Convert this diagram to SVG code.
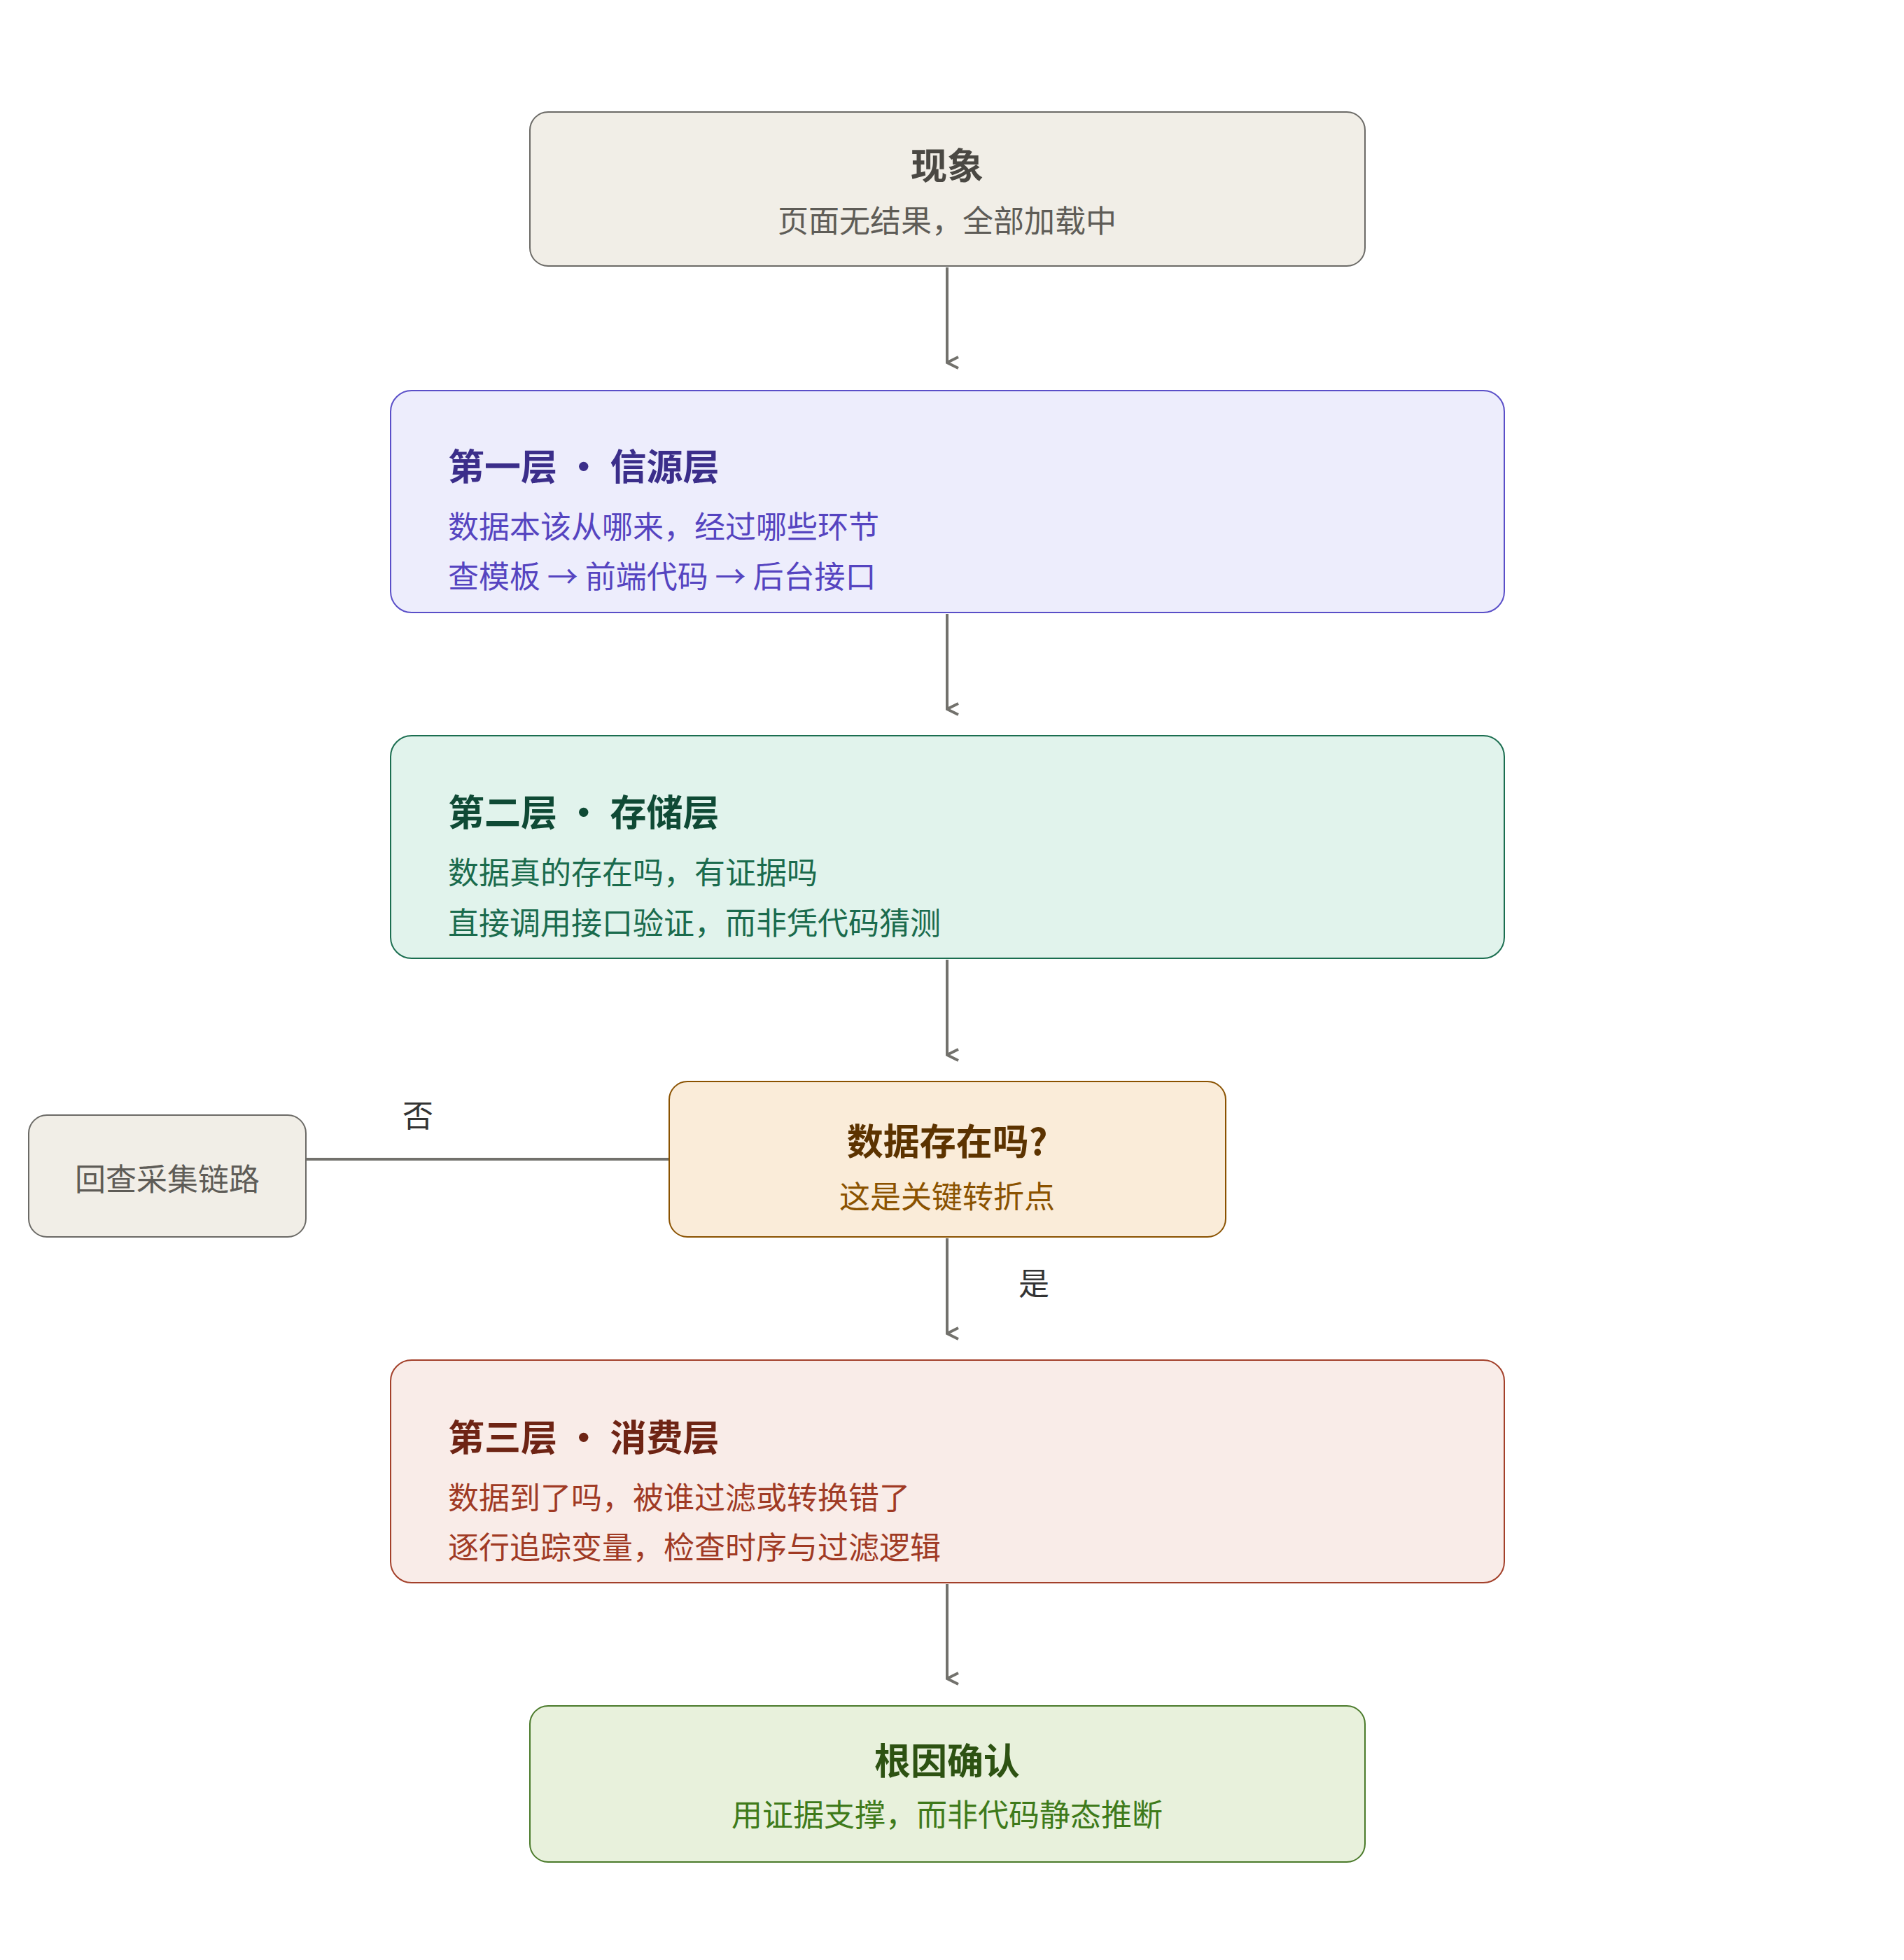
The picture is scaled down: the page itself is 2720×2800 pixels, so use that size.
<svg xmlns="http://www.w3.org/2000/svg" width="2720" height="2800" viewBox="0 0 2720 2800">
<style>
text{font-family:"Noto Sans CJK SC","Noto Sans",sans-serif;dominant-baseline:central}
.t{font-size:52px;font-weight:bold}
.b{font-size:44px}
.c{text-anchor:middle}
.e{stroke:#72716c;stroke-width:4;fill:none}
</style>
<defs><marker id="a" viewBox="0 0 20 20" refX="10" refY="18" markerWidth="20" markerHeight="20" markerUnits="userSpaceOnUse" orient="auto-start-reverse"><path d="M2 2 L10 18 L18 2" fill="none" stroke="#72716c" stroke-width="4"/></marker></defs>
<g id="connectors">
<path class="e" d="M1353 382V518" marker-end="url(#a)"/>
<path class="e" d="M1353 877V1013" marker-end="url(#a)"/>
<path class="e" d="M1353 1371V1507" marker-end="url(#a)"/>
<path class="e" d="M1353 1769V1905" marker-end="url(#a)"/>
<path class="e" d="M1353 2263V2398" marker-end="url(#a)"/>
<path class="e" d="M437 1656H956"/>
<text class="b c" x="597" y="1591" fill="#333">否</text>
<text class="b c" x="1477" y="1831" fill="#333">是</text>
</g>
<g id="n1"><rect x="757" y="160" width="1193" height="220" rx="26" fill="#f1eee7" stroke="#6b6a66" stroke-width="2"/>
<text class="t c" x="1353" y="233" fill="#4a4843">现象</text>
<text class="b c" x="1353" y="313" fill="#5e5c57">页面无结果，全部加载中</text></g>
<g id="n2"><rect x="558" y="558" width="1591" height="317" rx="30" fill="#ededfc" stroke="#5a4fc8" stroke-width="2"/>
<text class="t" x="640" y="663" fill="#3b2e8a">第一层 · 信源层</text>
<text class="b" x="640" y="750" fill="#5544c0">数据本该从哪来，经过哪些环节</text>
<text class="b" x="640" y="821" fill="#5544c0">查模板 → 前端代码 → 后台接口</text></g>
<g id="n3"><rect x="558" y="1051" width="1591" height="318" rx="30" fill="#e1f3ec" stroke="#1b6e50" stroke-width="2"/>
<text class="t" x="640" y="1157" fill="#0f4a35">第二层 · 存储层</text>
<text class="b" x="640" y="1244" fill="#1a6b4d">数据真的存在吗，有证据吗</text>
<text class="b" x="640" y="1316" fill="#1a6b4d">直接调用接口验证，而非凭代码猜测</text></g>
<g id="n4"><rect x="956" y="1545" width="795" height="222" rx="26" fill="#faecd9" stroke="#8a5200" stroke-width="2"/>
<text class="t c" x="1353" y="1627" fill="#5c3300">数据存在吗?</text>
<text class="b c" x="1353" y="1707" fill="#8a5200">这是关键转折点</text></g>
<g id="n5"><rect x="41" y="1593" width="396" height="174" rx="26" fill="#f1eee7" stroke="#6b6a66" stroke-width="2"/>
<text class="b c" x="239" y="1682" fill="#5e5c57">回查采集链路</text></g>
<g id="n6"><rect x="558" y="1943" width="1591" height="318" rx="30" fill="#f9ece8" stroke="#a3402a" stroke-width="2"/>
<text class="t" x="640" y="2050" fill="#6e2414">第三层 · 消费层</text>
<text class="b" x="640" y="2137" fill="#a03a24">数据到了吗，被谁过滤或转换错了</text>
<text class="b" x="640" y="2208" fill="#a03a24">逐行追踪变量，检查时序与过滤逻辑</text></g>
<g id="n7"><rect x="757" y="2437" width="1193" height="223" rx="26" fill="#e8f1dc" stroke="#4a7a2a" stroke-width="2"/>
<text class="t c" x="1353" y="2512" fill="#2d5212">根因确认</text>
<text class="b c" x="1353" y="2590" fill="#3e7a1a">用证据支撑，而非代码静态推断</text></g>
</svg>
